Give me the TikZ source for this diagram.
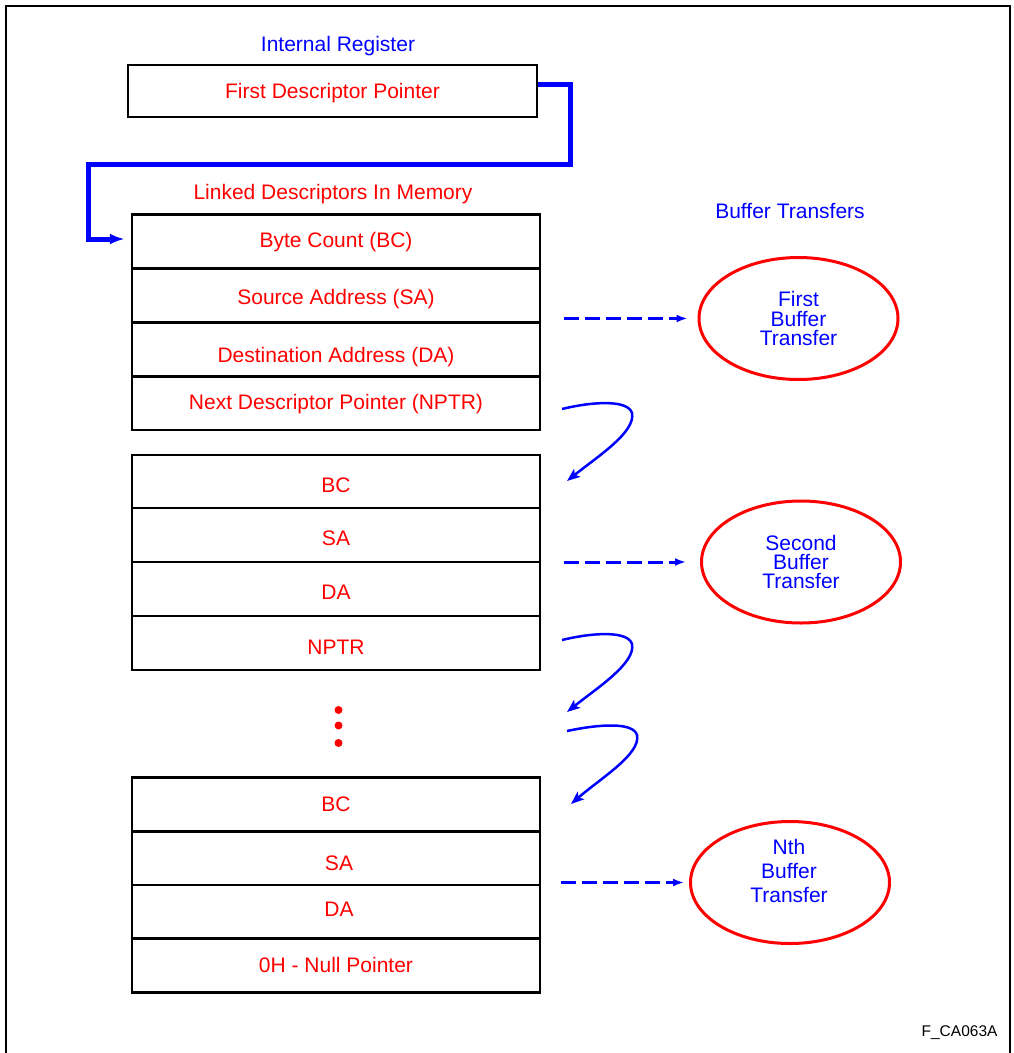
\documentclass[tikz,border=0pt]{standalone}
\usepackage{fontspec}
\setmainfont{Liberation Sans}
\usetikzlibrary{shapes.geometric,arrows.meta}
\definecolor{pblue}{RGB}{0,0,255}
\definecolor{pred}{RGB}{255,0,0}
\begin{document}
\begin{tikzpicture}[x=1pt,y=-1pt,
  font=\fontsize{21}{25}\selectfont,
  rowbox/.style={draw, line width=2.5pt, minimum width=408pt, minimum height=54pt, inner sep=0pt, text=pred, text depth=0pt},
  ellbox/.style={ellipse, draw=pred, line width=3pt, minimum width=199pt, minimum height=122pt, inner sep=0pt, text=pblue, align=center},
  fatarrow/.style={draw=pblue, line width=5pt, -{Latex[length=15pt,width=11pt]}},
  dasharr/.style={draw=pblue, line width=3pt, dash pattern=on 15pt off 6pt, -{Latex[length=11pt,width=8pt]}},
  curl/.style={draw=pblue, line width=2.5pt, -{Stealth[length=13pt,width=10pt,inset=3pt]}},
  dotst/.style={fill=pred}]
\useasboundingbox (0,0) rectangle (1013,1053);
% frame
\draw[line width=2pt] (6,1060) -- (6,5.5) -- (1009.5,5.5) -- (1009.5,1060);

% internal register
\node[text=pblue] (irlbl) at (338,46) {Internal Register};
\node[rowbox, minimum width=409pt, minimum height=52pt, text height=15pt] (reg) at (332.5,91) {First Descriptor Pointer};

\node[text=pred] (ldlbl) at (333,194) {Linked Descriptors In Memory};
\node[text=pblue] (btlbl) at (790,211) {Buffer Transfers};

% descriptor 1
\node[rowbox, text height=12pt] (bca) at (336,241.5) {Byte Count (BC)};
\node[rowbox, text height=17pt] (saa) at (336,295.5) {Source Address (SA)};
\node[rowbox, text height=26.4pt] (daa) at (336,349.5) {Destination Address (DA)};
\node[rowbox, text height=13pt] (npa) at (336,403) {Next Descriptor Pointer (NPTR)};

% descriptor 2
\node[rowbox, minimum height=53pt, text height=21pt] (bcb) at (336,481.5) {BC};
\node[rowbox, text height=20pt] (sab) at (336,535) {SA};
\node[rowbox, text height=20pt] (dab) at (336,589) {DA};
\node[rowbox, text height=22.6pt] (npb) at (336,643) {NPTR};

% dots
\fill[dotst] (338.5,710) circle[radius=4pt];
\fill[dotst] (338.5,725.5) circle[radius=4pt];
\fill[dotst] (338.5,743) circle[radius=4pt];

% descriptor N
\node[rowbox, text height=13pt] (bcc) at (336,804.5) {BC};
\node[rowbox, text height=24.4pt] (sac) at (336,858) {\hspace*{6pt}SA};
\node[rowbox, text height=8.4pt] (dac) at (336,912) {\hspace*{6pt}DA};
\node[rowbox, text height=14pt] (npc) at (336,965.5) {0H - Null Pointer};

% ellipses
\node[ellbox, font=\fontsize{21}{19.5}\selectfont] (ea) at (798.5,318.5) {First\\Buffer\\Transfer};
\node[ellbox, font=\fontsize{21}{19}\selectfont] (eb) at (801,562) {Second\\Buffer\\Transfer};
\node[ellbox] (ec) at (790,882.5) {};
\node[text=pblue, align=center, font=\fontsize{21}{24}\selectfont] (ectxt) at (789,871) {Nth\\Buffer\\Transfer};

% first pointer connector
\draw[fatarrow] ([yshift=7pt]reg.east) -- (570,84) -- (570,164) -- (88,164) -- (88,239) -- ([xshift=-6pt]bca.west |- 0,239);

% dashed transfer arrows
\draw[dasharr] ([xshift=23pt]saa.east |- ea.west) -- ([xshift=-10pt]ea.west);
\draw[dasharr] ([xshift=23pt]sab.east |- eb.west) -- ([xshift=-14pt]eb.west);
\draw[dasharr] ([xshift=20pt]sac.east |- ec.west) -- ([xshift=-5pt]ec.west);

% curly next-pointer arrows
\coordinate (ca) at (562,409);
\coordinate (cb) at (562,640);
\coordinate (cc) at (567,731);
\draw[curl] (ca) .. controls ++(33,-8) and ++(-4,-13) .. ++(70,4) .. controls ++(4,19) and ++(30,-24) .. ++(-65,68);
\draw[curl] (cb) .. controls ++(33,-8) and ++(-4,-13) .. ++(70,4) .. controls ++(4,19) and ++(30,-24) .. ++(-65,68);
\draw[curl] (cc) .. controls ++(33,-7) and ++(-4,-13) .. ++(70,4) .. controls ++(4,19) and ++(30,-26) .. ++(-66,69);

% figure id
\node[anchor=east, font=\fontsize{15.5}{18}\selectfont] (figid) at (1001,1033) {F\_CA063A};
\end{tikzpicture}
\end{document}
